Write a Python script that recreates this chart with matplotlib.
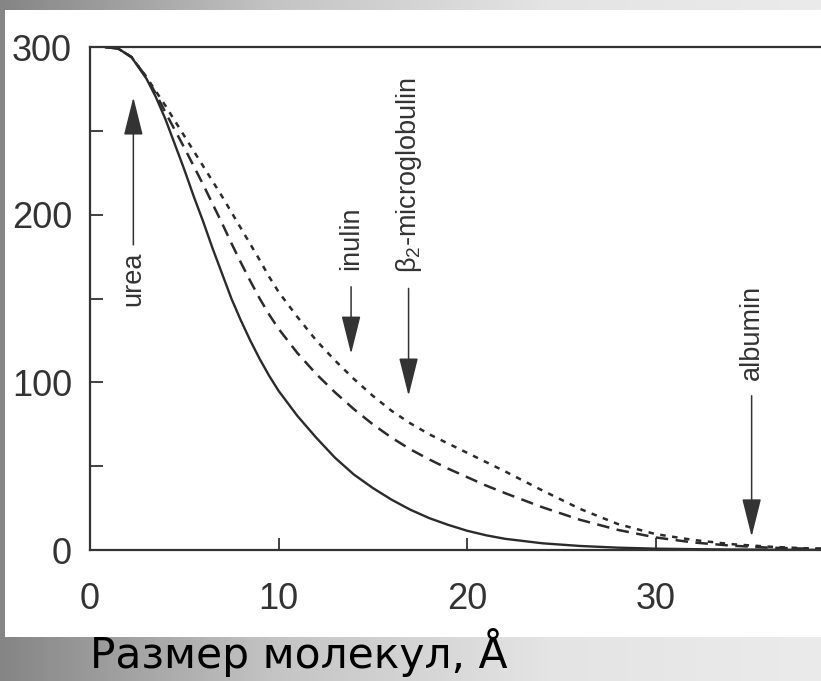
import numpy as np
import matplotlib
matplotlib.use("Agg")
import matplotlib.pyplot as plt
from matplotlib.patches import Rectangle
from matplotlib.colors import LinearSegmentedColormap

# ---- data ----
size_A = [0.8, 1.5, 2.2, 3, 3.5, 4, 4.5, 5, 5.5, 6, 6.5, 7, 7.5, 8, 8.5, 9, 9.5, 10,
          11, 12, 13, 14, 15, 16, 17, 18, 19, 20, 21, 22, 24, 26, 28, 30, 32, 34, 36, 38, 40]
solid_vals = [300, 299, 294, 281, 270, 257, 242, 227, 211, 196, 180, 165, 150, 137, 125,
              114, 104, 95, 80, 67, 55, 45, 37, 30, 24, 19, 15, 11.5, 8.8, 6.7, 4.0, 2.4,
              1.4, 0.8, 0.5, 0.3, 0.2, 0.1, 0.1]
dashed_vals = [300, 299, 294, 282, 272, 261, 250.5, 240, 229, 218, 206.5, 195, 183, 171.5,
               160.5, 150, 140.5, 132, 117.5, 105, 94, 84, 75, 67, 60, 54, 48.5, 43.5, 38.5,
               34, 25.5, 18, 12, 7.5, 4.5, 2.6, 1.4, 0.8, 0.5]
dotted_vals = [300, 299, 294, 282, 273.5, 265, 256, 247, 238, 229, 220, 211, 201.5, 192,
               182.5, 173, 163, 154, 139, 125, 113, 102, 92, 83, 75.5, 69, 63.5, 58, 52.5,
               47, 35.5, 24.5, 15.5, 9.5, 6, 3.5, 2, 1, 0.6]

markers = ["urea", "inulin", r"$\mathrm{\beta}_2$-microglobulin", "albumin"]
marker_x = [2.3, 13.85, 16.9, 35.1]
arrow_from = [182, 157, 156, 92]
arrow_to = [270, 117, 92, 8]
label_y = [162, 186, 224, 130]

x_ticks = [0, 10, 20, 30]
y_ticks = [0, 100, 200, 300]
x_label = "Размер молекул, Å"

plt.rcParams["mathtext.fontset"] = "custom"
plt.rcParams["mathtext.rm"] = "Liberation Sans"
plt.rcParams["mathtext.it"] = "Liberation Sans:italic"
plt.rcParams["font.family"] = ["Liberation Sans", "DejaVu Sans"]

W, H = 821, 681
fig = plt.figure(figsize=(W / 100, H / 100), dpi=100)

# background gradient
bg = fig.add_axes([0, 0, 1, 1], zorder=-10)
grad = np.linspace(0, 1, 256)[None, :]
cm = LinearSegmentedColormap.from_list("g", ["#858585", "#c4c4c4", "#e4e4e4", "#ebebeb"])
bg.imshow(grad, aspect="auto", cmap=cm, extent=[0, 1, 0, 1], origin="lower")
bg.add_patch(Rectangle((5 / W, (H - 637) / H), 1 - 5 / W, (637 - 10) / H,
                       facecolor="white", edgecolor="none"))
bg.set_xlim(0, 1)
bg.set_ylim(0, 1)
bg.axis("off")

left = 90 / W
bottom = (H - 550) / H
top = (H - 47) / H
ax = fig.add_axes([left, bottom, 754 / W, top - bottom])
ax.patch.set_alpha(0)

ink = "#2b2b2b"
ax.plot(size_A, solid_vals, color=ink, lw=1.7)
ax.plot(size_A, dashed_vals, color=ink, lw=1.8, dashes=(5, 3))
ax.plot(size_A, dotted_vals, color=ink, lw=1.8, dashes=(2.2, 2.6))

for name, x, y0, y1, ly in zip(markers, marker_x, arrow_from, arrow_to, label_y):
    ax.annotate("", xy=(x, y1), xytext=(x, y0),
                arrowprops=dict(arrowstyle="-|>,head_length=2.4,head_width=0.6",
                                color="#333333", lw=1.1, shrinkA=0, shrinkB=0,
                                mutation_scale=10))
    ax.text(x, ly, name, rotation=90, ha="center", va="center", fontsize=19.5,
            color="#333333")

ax.set_xlim(0, 40)
ax.set_ylim(0, 300)
ax.set_xticks(x_ticks)
ax.set_yticks(y_ticks)
ax.set_yticks([50, 150, 250], minor=True)
ax.tick_params(axis="both", which="both", direction="in", length=9, width=1.3,
               colors="#333333", labelsize=26)
ax.tick_params(axis="x", pad=23)
ax.tick_params(axis="y", pad=13)
for s in ax.spines.values():
    s.set_linewidth(1.6)
    s.set_color("#333333")

fig.text(90 / W, (H - 668) / H, x_label, fontsize=30.5, color="black",
         va="baseline", ha="left", family=["DejaVu Sans"])

fig.savefig("out.png", dpi=100)
